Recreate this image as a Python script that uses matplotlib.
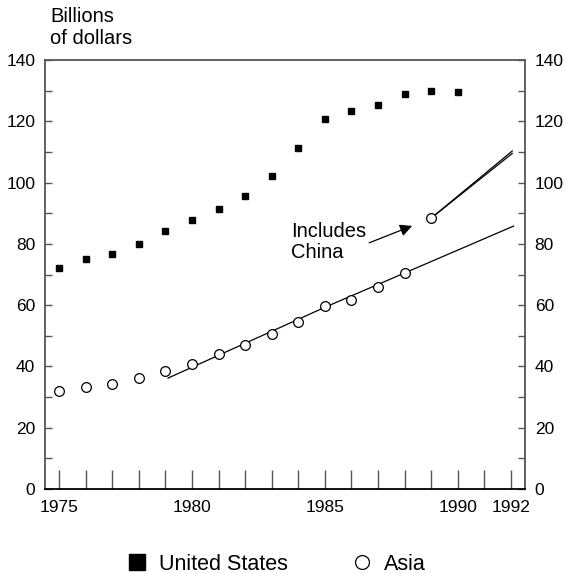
import matplotlib
matplotlib.use("Agg")
import matplotlib.pyplot as plt
from matplotlib.lines import Line2D
from matplotlib.ticker import MultipleLocator, FixedLocator

plt.rcParams['font.family'] = ['Liberation Sans', 'DejaVu Sans']

years = [1975, 1976, 1977, 1978, 1979, 1980, 1981, 1982, 1983, 1984,
         1985, 1986, 1987, 1988, 1989, 1990]
us = [72.1, 75.1, 76.7, 80.0, 84.2, 87.8, 91.4, 95.6, 102.2, 111.3,
      120.8, 123.4, 125.3, 128.9, 129.9, 129.6]
asia_years = [1975, 1976, 1977, 1978, 1979, 1980, 1981, 1982, 1983, 1984,
              1985, 1986, 1987, 1988, 1989]
asia = [32.0, 33.3, 34.3, 36.2, 38.5, 40.8, 44.1, 47.0, 50.6, 54.5,
        59.7, 61.7, 65.9, 70.5, 88.4]
trend_years = [1979.1, 1985, 1992.1]
trend = [36.2, 59.3, 85.8]
china_years = [1989, 1992.05]
china_a = [88.4, 110.3]
china_b = [88.4, 109.5]
xtick_labels = {1975: "1975", 1980: "1980", 1985: "1985", 1990: "1990", 1992: "1992"}

fig = plt.figure(figsize=(5.65, 5.73), dpi=100)
ax = fig.add_axes([45/565, 1-489/573, 480/565, 429/573])

ax.plot(trend_years, trend, color='black', lw=0.9)
ax.plot(china_years, china_a, color='black', lw=0.9)
ax.plot(china_years, china_b, color='black', lw=0.9)
ax.plot(years, us, ls='none', marker='s', ms=3.8, color='black')
ax.plot(asia_years, asia, ls='none', marker='o', ms=7, mfc='white',
        mec='black', mew=0.9, zorder=3)

ax.annotate("", xy=(1988.38, 86.2), xytext=(1986.57, 80.0),
            arrowprops=dict(arrowstyle='-|>', color='black', lw=0.9,
                            mutation_scale=18))
ax.text(1983.72, 80.7, "Includes\nChina", fontsize=14.5, ha='left', va='center',
        linespacing=1.15)

ax.set_xlim(1974.47, 1992.53)
ax.set_ylim(0, 140)

ax.xaxis.set_major_locator(FixedLocator(list(range(1975, 1993))))
ax.set_xticklabels([xtick_labels.get(y, "") for y in range(1975, 1993)])
ax.tick_params(axis='x', direction='in', length=14, width=1, color='#555555',
               labelsize=12.5, pad=8)
ax.yaxis.set_major_locator(MultipleLocator(20))
ax.yaxis.set_minor_locator(MultipleLocator(10))
ax.tick_params(axis='y', which='both', direction='in', length=5, width=1,
               color='#555555', labelsize=12.5, pad=7, right=True, labelright=True)

for s in ['left', 'right', 'top']:
    ax.spines[s].set_color('#555555')
    ax.spines[s].set_linewidth(1.3)
ax.spines['bottom'].set_color('black')
ax.spines['bottom'].set_linewidth(1.3)

fig.text(50/565, 1-7/573, "Billions\nof dollars", fontsize=14.5, ha='left', va='top',
         linespacing=1.2)

handles = [Line2D([], [], ls='none', marker='s', ms=11, color='black'),
           Line2D([], [], ls='none', marker='o', ms=10, mfc='white', mec='black', mew=0.9)]
fig.legend(handles, ["United States", "Asia"], loc='center',
           bbox_to_anchor=(276/565, 1-564/573), ncol=2, frameon=False,
           fontsize=15.5, handletextpad=0.5, columnspacing=2.95, handlelength=1.0)

fig.savefig("out.png", dpi=100)
